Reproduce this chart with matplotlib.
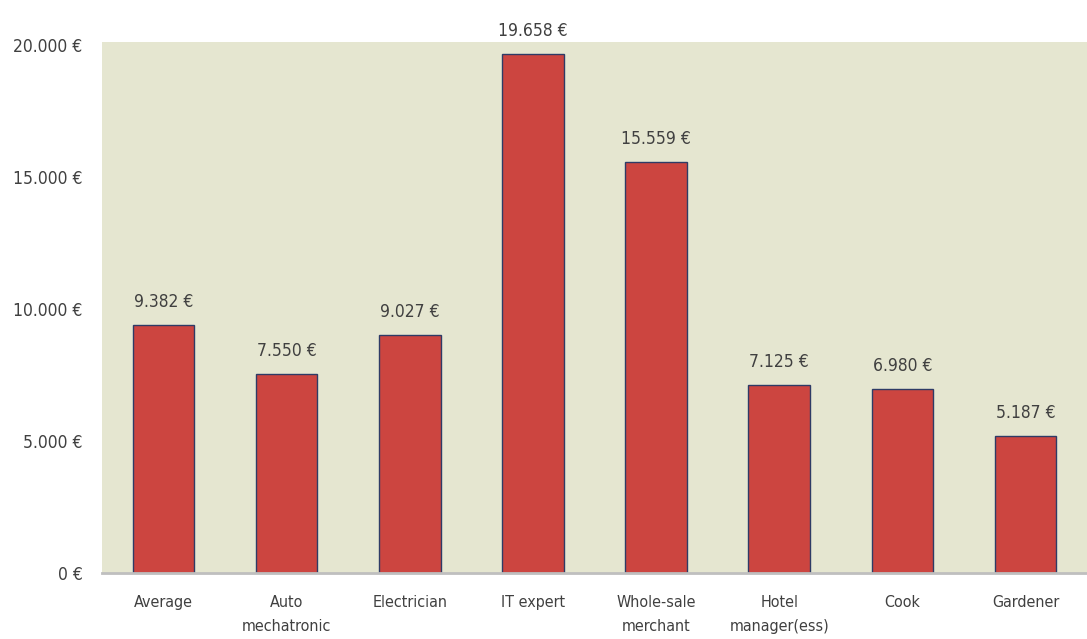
import matplotlib
matplotlib.use("Agg")
import matplotlib.pyplot as plt
import numpy as np

jobs = ["Average", "Auto\nmechatronic", "Electrician", "IT expert",
        "Whole-sale\nmerchant", "Hotel\nmanager(ess)", "Cook", "Gardener"]
salary = [9382, 7550, 9027, 19658, 15559, 7125, 6980, 5187]
yticks = [0, 5000, 10000, 15000, 20000]

plt.rcParams['font.family'] = ['DejaVu Sans']
plt.rcParams['font.stretch'] = 'condensed'
txt = '#404040'

def euro(v):
    s = f"{v:,.0f}".replace(",", ".")
    return s + " €"

fig = plt.figure(figsize=(10.87, 6.39), dpi=100)
ax = fig.add_axes([102/1087, 1 - 573/639, 985/1087, (573 - 42)/639])
ax.set_facecolor('#E5E6D0')

x = np.arange(len(jobs))
ax.bar(x, salary, width=0.5, color='#CC4540', edgecolor='#2E3B66', linewidth=1.0, zorder=3)
for xi, v in zip(x, salary):
    ax.annotate(euro(v), (xi, v), xytext=(0, 10), textcoords='offset points',
                ha='center', va='bottom', fontsize=12.5, color=txt,
                annotation_clip=False)

ax.set_xlim(-0.5, len(jobs) - 0.5)
ax.set_ylim(0, 20114)
ax.set_yticks(yticks)
ax.set_yticklabels([euro(v) for v in yticks], fontsize=12.5, color=txt)
ax.set_xticks(x)
ax.set_xticklabels(jobs, fontsize=11.5, color=txt, linespacing=1.75, va='top')
ax.tick_params(axis='both', length=0)
ax.tick_params(axis='y', pad=14)
ax.tick_params(axis='x', pad=16)
for s in ['top', 'right', 'left']:
    ax.spines[s].set_visible(False)
ax.spines['bottom'].set_color('#BFBFBF')
ax.spines['bottom'].set_linewidth(2)
ax.spines['bottom'].set_zorder(4)

fig.savefig('out.png', dpi=100)
